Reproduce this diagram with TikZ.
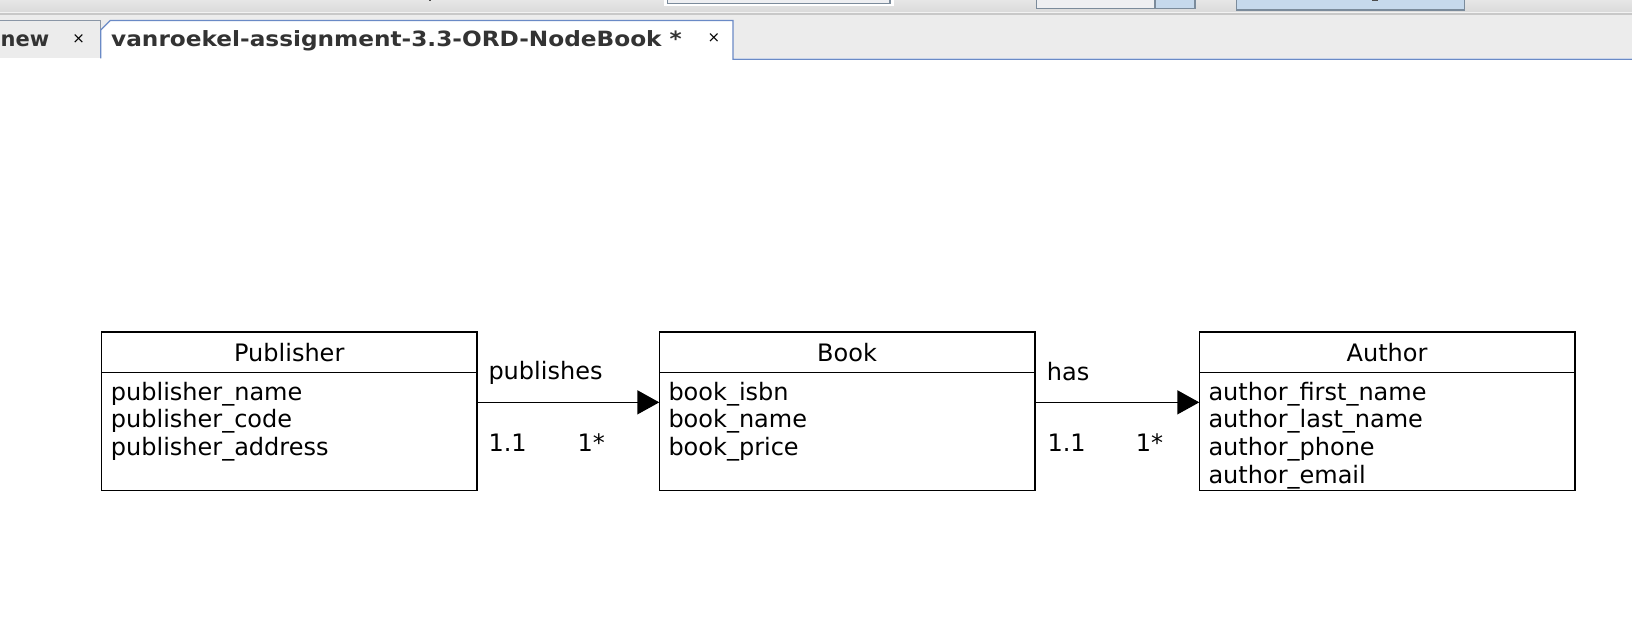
\documentclass[tikz,border=0pt]{standalone}
\usepackage{fontspec}
\setmainfont{DejaVu Sans}
\usetikzlibrary{arrows.meta,calc}
\definecolor{tabblue}{HTML}{6A8AC6}
\definecolor{tabgray}{HTML}{8A96A6}
\definecolor{stripbg}{HTML}{ECECEC}
\definecolor{barTop}{HTML}{E6E6E6}
\definecolor{barBot}{HTML}{DADADA}
\definecolor{barLight}{HTML}{F2F2F2}
\definecolor{barLine}{HTML}{C8C8C8}
\definecolor{widgetborder}{HTML}{7B8B9B}
\definecolor{widgetblue}{HTML}{C6D9EC}
\definecolor{widgetpale}{HTML}{EEEFF2}
\definecolor{tabtext}{HTML}{333333}
\begin{document}
\begin{tikzpicture}[x=1pt,y=-1pt,
  entity/.style={draw=black, line width=1.5pt, rectangle, minimum width=375.5pt,
    minimum height=158.5pt, anchor=north west, inner sep=0pt, outer sep=0pt},
  entitytitle/.style={anchor=base, font=\fontsize{24}{28}\selectfont, inner sep=0pt},
  attr/.style={anchor=base west, font=\fontsize{24}{28}\selectfont, inner sep=0pt},
  rel/.style={line width=1.5pt, -{Triangle[length=22pt,width=24pt]}},
  lbl/.style={anchor=base west, font=\fontsize{24}{28}\selectfont, inner sep=0pt},
  tabtitle/.style={anchor=base west, font=\fontsize{21}{24}\selectfont\bfseries, text=tabtext, inner sep=0pt},
  closex/.style={font=\fontsize{15}{15}\selectfont, text=black, inner sep=0pt},
  widget/.style={fill=#1, draw=widgetborder, line width=1.3pt},
]
\useasboundingbox (0,0) rectangle (1632,636);
\clip (0,0) rectangle (1632,636);
\fill[white] (0,0) rectangle (1632,636);

% toolbar strip
\shade[top color=barTop, bottom color=barBot] (0,0) rectangle (1632,12.5);
\fill[barLight] (0,12.5) rectangle (1632,13.5);
\fill[barLine] (0,13.5) rectangle (1632,15.5);
\fill[stripbg] (0,15.5) rectangle (1632,58.5);

% toolbar widgets (cut off at the top)
\fill[white] (664,0) rectangle (894,6);
\fill[widgetpale] (667.5,0) rectangle (890,3.5);
\draw[widgetborder, line width=1.3pt] (667.5,0) -- (667.5,3.5) -- (890,3.5) -- (890,0);
\draw[widget=widgetpale] (1036.5,-2) rectangle (1155,8.2);
\draw[widget=widgetblue] (1155,-2) rectangle (1195,8.2);
\draw[widget=widgetblue, line width=1.6pt] (1236.5,-2) rectangle (1464.5,10);
\fill[gray!60!black] (428.5,0) rectangle (431,1.5);
\fill[gray!60!black] (1372,0) rectangle (1378,1.2);

% tabs
\draw[tabgray, line width=1pt] (-1,20.5) -- (100.3,20.5) -- (100.3,58.5);
\fill[white] (100.8,58.5) -- (100.8,30) -- (110.3,20.5) -- (733,20.5) -- (733,59.5) -- (100.8,59.5) -- cycle;
\draw[tabblue, line width=1.2pt] (100.8,58.5) -- (100.8,30) -- (110.3,20.5) -- (733,20.5) -- (733,59.3) -- (1633,59.3);
\node[tabtitle] (tabN) at (0.5,46.7) {new};
\node[closex] (tabNx) at (78.7,39) {×};
\node[tabtitle] (tabT) at (111,46.7) {\scalebox{1.105}[1]{vanroekel-assignment-3.3-ORD-NodeBook *}};
\node[closex] (tabTx) at (714,38.5) {×};

% entities
\node[entity] (pub) at (101.5,332) {};
\node[entity] (book) at (659.3,332) {};
\node[entity] (auth) at (1199.3,332) {};
\foreach \e in {pub,book,auth}{
  \draw[line width=1.5pt] ([yshift=-40.5pt]\e.north west) -- ([yshift=-40.5pt]\e.north east);
}
\node[entitytitle] (pubT) at ([yshift=-29.7pt]pub.north) {Publisher};
\node[entitytitle] (bookT) at ([yshift=-29.7pt]book.north) {Book};
\node[entitytitle] (authT) at ([yshift=-29.7pt]auth.north) {Author};

\node[attr] (pub1) at ([xshift=9.2pt,yshift=-68pt]pub.north west) {publisher\_name};
\node[attr] (pub2) at ([xshift=9.2pt,yshift=-95.8pt]pub.north west) {publisher\_code};
\node[attr] (pub3) at ([xshift=9.2pt,yshift=-123.6pt]pub.north west) {publisher\_address};

\node[attr] (book1) at ([xshift=9pt,yshift=-68pt]book.north west) {book\_isbn};
\node[attr] (book2) at ([xshift=9pt,yshift=-95.8pt]book.north west) {book\_name};
\node[attr] (book3) at ([xshift=9pt,yshift=-123.6pt]book.north west) {book\_price};

\node[attr] (auth1) at ([xshift=9pt,yshift=-68pt]auth.north west) {author\_first\_name};
\node[attr] (auth2) at ([xshift=9pt,yshift=-95.8pt]auth.north west) {author\_last\_name};
\node[attr] (auth3) at ([xshift=9pt,yshift=-123.6pt]auth.north west) {author\_phone};
\node[attr] (auth4) at ([xshift=9pt,yshift=-151.4pt]auth.north west) {author\_email};

% relationships
\draw[rel] ([yshift=8.9pt]pub.east) -- ([yshift=8.9pt]book.west);
\draw[rel] ([yshift=8.9pt]book.east) -- ([yshift=8.9pt]auth.west);

\node[lbl] (relA) at (488.3,379.3) {publishes};
\node[lbl] (relAl) at (488.3,451) {1.1};
\node[lbl] (relAr) at (577.3,451) {1*};
\node[lbl] (relB) at (1046.7,380) {has};
\node[lbl] (relBl) at (1047.3,451) {1.1};
\node[lbl] (relBr) at (1135.7,451) {1*};
\end{tikzpicture}
\end{document}
